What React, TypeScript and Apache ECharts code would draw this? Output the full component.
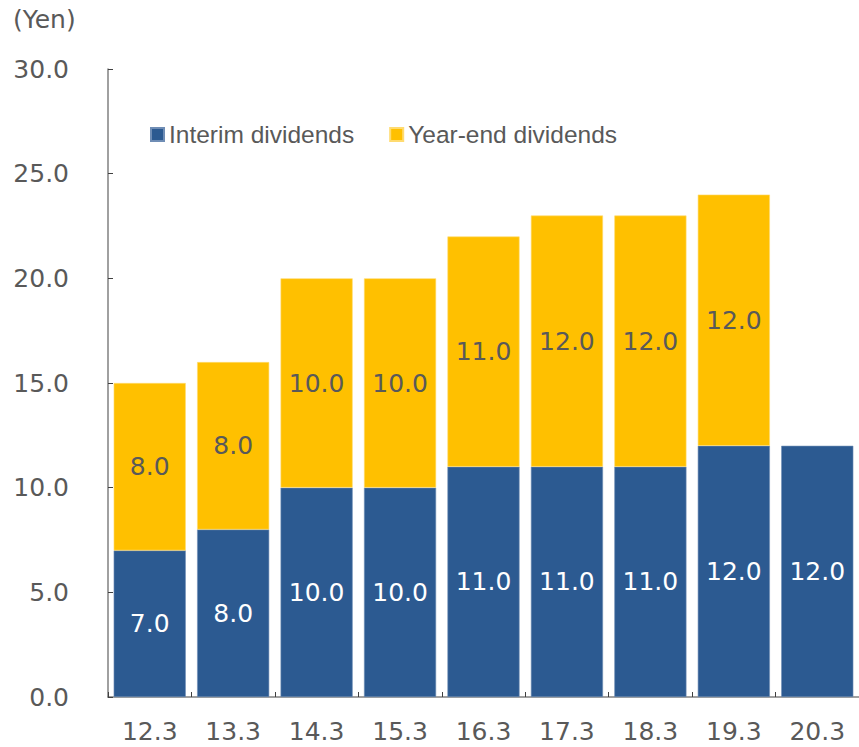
import React, { useEffect, useRef } from "react";
import * as echarts from "echarts";

const categories = ["12.3", "13.3", "14.3", "15.3", "16.3", "17.3", "18.3", "19.3", "20.3"];
const interimDividends = [7.0, 8.0, 10.0, 10.0, 11.0, 11.0, 11.0, 12.0, 12.0];
const yearEndDividends: (number | null)[] = [8.0, 8.0, 10.0, 10.0, 11.0, 12.0, 12.0, 12.0, null];
const yTicks = { min: 0, max: 30, interval: 5 };

const TEXT = "#595959";
const AXIS_FONT = "DejaVu Sans, Verdana, sans-serif";

export default function App() {
  const ref = useRef<HTMLDivElement>(null);
  useEffect(() => {
    if (!ref.current) return;
    const chart = echarts.init(ref.current, undefined, { renderer: "svg" });
    chart.setOption({
      animation: false,
      backgroundColor: "#ffffff",
      grid: { left: 108, right: 0, top: 69, bottom: 50, containLabel: false },
      legend: {
        left: 150,
        top: 122,
        padding: 0,
        itemWidth: 13,
        itemHeight: 13,
        itemGap: 35,
        icon: "rect",
        textStyle: { fontFamily: "Liberation Sans, Arial, sans-serif", fontSize: 24.5, color: TEXT },
        data: ["Interim dividends", "Year-end dividends"],
      },
      graphic: [
        {
          type: "text",
          left: 13,
          top: 7,
          style: { text: "(Yen)", fontFamily: AXIS_FONT, fontSize: 25, fill: TEXT },
        },
      ],
      xAxis: {
        type: "category",
        data: categories,
        axisLine: { show: true, lineStyle: { color: "#808080", width: 1.5 } },
        axisTick: { show: true, inside: true, length: 5, lineStyle: { color: "#404040" } },
        axisLabel: { fontFamily: AXIS_FONT, fontSize: 25, lineHeight: 25, color: TEXT, margin: 22 },
      },
      yAxis: {
        type: "value",
        min: yTicks.min,
        max: yTicks.max,
        interval: yTicks.interval,
        splitLine: { show: false },
        axisLine: { show: true, lineStyle: { color: "#808080", width: 1.5 } },
        axisTick: { show: true, inside: true, length: 5, lineStyle: { color: "#404040" } },
        axisLabel: {
          fontFamily: AXIS_FONT,
          fontSize: 25,
          color: TEXT,
          margin: 39,
          formatter: (v: number) => v.toFixed(1),
        },
      },
      series: [
        {
          name: "Interim dividends",
          type: "bar",
          stack: "div",
          data: interimDividends,
          barCategoryGap: "13.6%",
          itemStyle: { color: "#2C5A91", borderColor: "#6F8DB5", borderWidth: 0.6 },
          label: {
            show: true,
            position: "inside",
            color: "#ffffff",
            fontFamily: AXIS_FONT,
            fontSize: 25,
            formatter: (p: any) => Number(p.value).toFixed(1),
          },
        },
        {
          name: "Year-end dividends",
          type: "bar",
          stack: "div",
          data: yearEndDividends,
          barCategoryGap: "13.6%",
          itemStyle: { color: "#FFC000", borderColor: "#FFDB70", borderWidth: 0.6 },
          label: {
            show: true,
            position: "inside",
            color: TEXT,
            fontFamily: AXIS_FONT,
            fontSize: 25,
            formatter: (p: any) => (p.value == null ? "" : Number(p.value).toFixed(1)),
          },
        },
      ],
    });
    return () => chart.dispose();
  }, []);
  return (
    <div
      ref={ref}
      style={{ position: "fixed", left: 0, top: 0, width: 859, height: 747 }}
    />
  );
}
